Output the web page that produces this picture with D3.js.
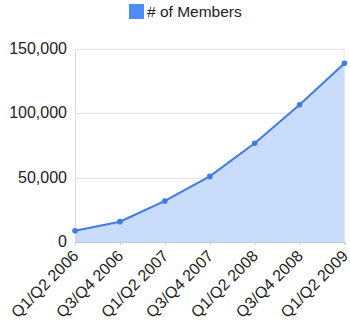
<!DOCTYPE html>
<html>
<head>
<meta charset="utf-8">
<script src="https://cdnjs.cloudflare.com/ajax/libs/d3/7.8.5/d3.min.js"></script>
<style>
body{margin:0;background:#fff;}
svg{display:block;font-family:"Liberation Sans",Arial,sans-serif;}
</style>
</head>
<body>
<svg id="svg" width="350" height="321"></svg>
<script>
var periods=['Q1/Q2 2006','Q3/Q4 2006','Q1/Q2 2007','Q3/Q4 2007','Q1/Q2 2008','Q3/Q4 2008','Q1/Q2 2009'];
var members=[8800,15800,31900,51000,76700,106700,138900];
var yticks=[0,50000,100000,150000];
var seriesName='# of Members';

var svg=d3.select("#svg");

var padding={top:49,right:5.5,bottom:79,left:75};
var chartarea={
	width:350-padding.left-padding.right,
	height:321-padding.top-padding.bottom
};

var xscale=d3.scalePoint()
.domain(periods)
.range([0,chartarea.width])
.padding(0);

var yscale=d3.scaleLinear()
.domain([0,150000])
.range([chartarea.height,0]);

var data=periods.map(function(p,i){return {period:p,value:members[i]};});

var g=svg.append("g")
.attr('transform','translate('+padding.left+','+padding.top+')');

// gridlines
g.selectAll("line.grid").data(yticks).enter()
.append("line")
.attr("class","grid")
.attr("x1",0).attr("x2",chartarea.width)
.attr("y1",function(d){return Math.round(yscale(d))+0.5;})
.attr("y2",function(d){return Math.round(yscale(d))+0.5;})
.attr("stroke","#e2e2e2");

// left and right frame
g.append("line").attr("x1",0.5).attr("x2",0.5).attr("y1",0).attr("y2",chartarea.height).attr("stroke","#dcdcdc");
g.append("line").attr("x1",chartarea.width-0.5).attr("x2",chartarea.width-0.5).attr("y1",0).attr("y2",chartarea.height).attr("stroke","#e2e2e2");

// area
var area=d3.area()
.x(function(d){return xscale(d.period);})
.y0(yscale(0))
.y1(function(d){return yscale(d.value);});

g.append("path").datum(data)
.attr("d",area)
.attr("fill","#c9dcfb");

var line=d3.line()
.x(function(d){return xscale(d.period);})
.y(function(d){return yscale(d.value);});

g.append("path").datum(data)
.attr("d",line)
.attr("fill","none")
.attr("stroke","#3d7be6")
.attr("stroke-width",2);

g.selectAll("circle").data(data).enter()
.append("circle")
.attr("cx",function(d){return xscale(d.period);})
.attr("cy",function(d){return yscale(d.value);})
.attr("r",2.8)
.attr("fill","#3d7be6");

// x axis
var xaxis=g.append("g")
.attr('transform','translate(0,'+chartarea.height+')')
.call(d3.axisBottom(xscale).tickSize(3).tickPadding(0));
xaxis.select(".domain").attr("stroke","#b8c8e6");
xaxis.selectAll(".tick line").attr("stroke","#c8c8c8");
xaxis.selectAll(".tick text")
.attr("font-size","16px")
.attr("font-family","Liberation Sans, Arial, sans-serif")
.attr("fill","#222")
.attr("text-anchor","end")
.attr("dy",null)
.attr("y",0)
.attr("transform","translate(4,15) rotate(-45)");

// y axis
var yaxis=g.append("g")
.call(d3.axisLeft(yscale).tickValues(yticks).tickSize(0).tickPadding(8).tickFormat(d3.format(",")));
yaxis.select(".domain").remove();
yaxis.selectAll(".tick text")
.attr("font-size","16px")
.attr("font-family","Liberation Sans, Arial, sans-serif")
.attr("fill","#222")
.attr("dy","0.29em");

// legend
var legend=svg.append("g");
legend.append("rect")
.attr("x",129).attr("y",4).attr("width",15).attr("height",15)
.attr("fill","#4d8cf2");
legend.append("text")
.attr("x",147).attr("y",17)
.attr("font-size","15.5px")
.attr("fill","#222")
.text(seriesName);
</script>
</body>
</html>
